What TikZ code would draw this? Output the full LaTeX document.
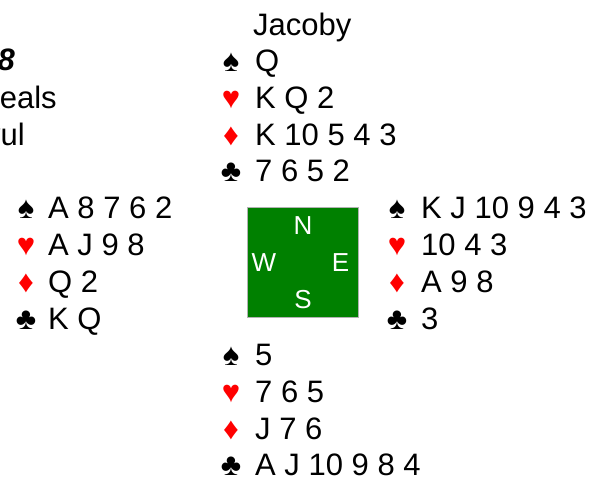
\documentclass[tikz,border=0pt]{standalone}
\usepackage{fontspec}
\setmainfont{Liberation Sans}
\definecolor{tablegreen}{HTML}{008000}
\tikzset{
  cards/.style={anchor=base west, inner sep=0pt, font=\fontsize{31}{36}\selectfont},
  pip/.style={anchor=base, inner sep=0pt, font=\fontsize{31}{36}\selectfont},
  redpip/.style={pip, text=red},
  seat/.style={anchor=base, inner sep=0pt, text=white, font=\fontsize{26}{30}\selectfont},
  note/.style={anchor=base east, inner sep=0pt, font=\fontsize{31}{36}\selectfont}
}

\begin{document}
\begin{tikzpicture}[x=1pt, y=-1pt]
			%%%%% START %%%%%
			\useasboundingbox (0, 0) rectangle (595, 477);
			\clip (0, 0) rectangle (595, 477);
			
			% heading, cut off at the left
			\node[note] (deal) at (15, 70) {\textbf{\textit{Deal 8}}};
			\node[note] (dealer) at (57, 108) {North deals};
			\node[note] (vul) at (25, 145) {None vul};
			
			% table
			\draw[draw=black!30, fill=tablegreen] (247.5, 207.5) rectangle (358, 317);
			\node[seat] (n) at (303, 234.5) {N};
			\node[seat] (w) at (264, 271.5) {W};
			\node[seat] (e) at (340.5, 271.5) {E};
			\node[seat] (s) at (303, 308.5) {S};
			
			% north
			\node[cards] (north) at (253, 35) {Jacoby};
			\node[pip] at (231, 71) {♠};
			\node[cards] (ns) at (255, 71) {Q};
			\node[redpip] at (231, 108) {♥};
			\node[cards] (nh) at (255, 108) {K Q 2};
			\node[redpip] at (231, 145) {♦};
			\node[cards] (nd) at (255, 145) {K 10 5 4 3};
			\node[pip] at (231, 181) {♣};
			\node[cards] (nc) at (255, 181) {7 6 5 2};
			
			% west
			\node[pip] at (26, 218) {♠};
			\node[cards] (ws) at (48, 218) {A 8 7 6 2};
			\node[redpip] at (26, 255) {♥};
			\node[cards] (wh) at (48, 255) {A J 9 8};
			\node[redpip] at (26, 292) {♦};
			\node[cards] (wd) at (48, 292) {Q 2};
			\node[pip] at (26, 329) {♣};
			\node[cards] (wc) at (48, 329) {K Q};
			
			% east
			\node[pip] at (397, 218) {♠};
			\node[cards] (es) at (421, 218) {K J 10 9 4 3};
			\node[redpip] at (397, 255) {♥};
			\node[cards] (eh) at (421, 255) {10 4 3};
			\node[redpip] at (397, 292) {♦};
			\node[cards] (ed) at (421, 292) {A 9 8};
			\node[pip] at (397, 329) {♣};
			\node[cards] (ec) at (421, 329) {3};
			
			% south
			\node[pip] at (231, 365) {♠};
			\node[cards] (ss) at (255, 365) {5};
			\node[redpip] at (231, 402) {♥};
			\node[cards] (sh) at (255, 402) {7 6 5};
			\node[redpip] at (231, 439) {♦};
			\node[cards] (sd) at (255, 439) {J 7 6};
			\node[pip] at (231, 475) {♣};
			\node[cards] (sc) at (255, 475) {A J 10 9 8 4};
			
			%%%%% END %%%%%
\end{tikzpicture}
\end{document}
